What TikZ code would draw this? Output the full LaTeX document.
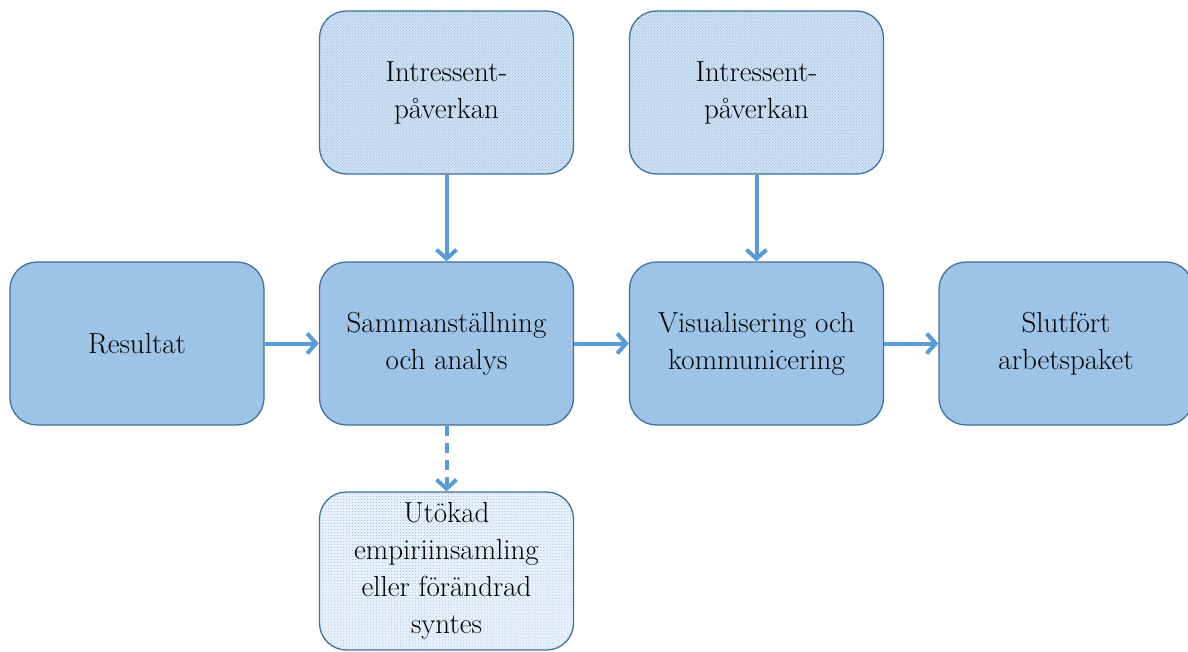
\documentclass[tikz,border=0pt]{standalone}
\usetikzlibrary{arrows.meta,patterns}
\definecolor{boxfill}{HTML}{9DC3E6}
\definecolor{boxdraw}{HTML}{41719C}
\definecolor{arrowc}{HTML}{5B9BD5}
\definecolor{patfillA}{HTML}{CFE1F3}
\definecolor{patfillB}{HTML}{E8F0F9}
\definecolor{patdots}{HTML}{8FB7E0}
\tikzset{
  base/.style={draw=boxdraw, line width=1.3bp, rounded corners=27bp,
    minimum width=254bp, minimum height=163bp, align=center, inner sep=0pt,
    font=\fontsize{29bp}{37bp}\selectfont},
  mainbox/.style={base, fill=boxfill},
  inbox/.style={base, preaction={fill=patfillA}, pattern=crosshatch dots, pattern color=patdots},
  outbox/.style={base, preaction={fill=patfillB}, pattern=dots, pattern color=patdots, minimum height=158bp},
  conn/.style={draw=arrowc, line width=4bp, -{Straight Barb[length=9bp,width=20bp,line width=4bp]}},
  dconn/.style={conn, dash pattern=on 10bp off 7bp}
}
\begin{document}
\begin{tikzpicture}[x=1bp,y=-1bp]
\useasboundingbox (0,0) rectangle (1188,652);
\node[mainbox] (res) at (137,343.5) {Resultat};
\node[mainbox] (sam) at (446.5,343.5) {Sammanställning\\och analys};
\node[mainbox] (vis) at (756.5,343.5) {Visualisering och\\kommunicering};
\node[mainbox] (slu) at (1066,343.5) {Slutfört\\arbetspaket};
\node[inbox] (int1) at (446.5,92.5) {Intressent-\\påverkan};
\node[inbox] (int2) at (756.5,92.5) {Intressent-\\påverkan};
\node[outbox] (uto) at (446.5,571) {Utökad\\empiriinsamling\\eller förändrad\\syntes};
\draw[conn] (res) -- (sam);
\draw[conn] (sam) -- (vis);
\draw[conn] (vis) -- (slu);
\draw[conn] (int1) -- (sam);
\draw[conn] (int2) -- (vis);
\draw[dconn] (sam) -- (uto);
\end{tikzpicture}
\end{document}
